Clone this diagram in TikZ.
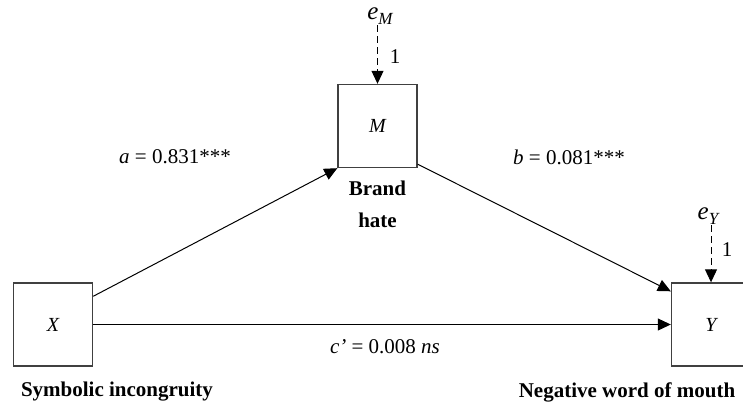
\documentclass[tikz,border=0pt]{standalone}
\usepackage{fontspec}
\setmainfont{Liberation Serif}
\usetikzlibrary{arrows.meta,calc}
\begin{document}
\begin{tikzpicture}[x=1pt,y=-1pt,
  every node/.style={font=\fontsize{21}{24}\selectfont},
  var/.style={draw=black!75,line width=1.4pt,minimum width=79pt,minimum height=83pt,inner sep=0pt,font=\fontsize{20}{24}\selectfont\itshape},
  path/.style={line width=1pt,-{Triangle[length=13pt,width=12pt]}},
  err/.style={line width=1pt,dash pattern=on 7pt off 4pt,-{Triangle[length=13pt,width=12pt]}},
  lab/.style={font=\fontsize{21}{24}\selectfont\bfseries},
  errlab/.style={font=\fontsize{25}{26}\selectfont\itshape,inner sep=1pt}]
\useasboundingbox (0,0) rectangle (743,407);
\node[var] (X) at (53,324.5) {X};
\node[var] (M) at (377.5,126) {M};
\node[var] (Y) at (711,324.5) {Y};
\node[errlab] (eM) at (380,16) {e\raisebox{-0.4ex}{\fontsize{17}{18}\selectfont M}};
\node[errlab] (eY) at (708,216) {e\raisebox{-0.4ex}{\fontsize{17}{18}\selectfont Y}};
\draw[err] (eM.south -| M.north) -- (M.north);
\draw[err] (eY.south -| Y.north) -- (Y.north);
\node (oneM) at (395,57) {1};
\node (oneY) at (727,250) {1};
\draw[path] ($(X.north east)+(0,14)$) -- (M.south west);
\draw[path] ($(M.south east)+(0,-4)$) -- ($(Y.north west)+(0,9)$);
\draw[path] (X.east) -- (Y.west);
\node (a) at (175,157) {\textit{a} = 0.831***};
\node (b) at (569,157) {\textit{b} = 0.081***};
\node (c) at (385,347) {\textit{c'} = 0.008 \textit{ns}};
\node[lab] (brand) at (377.5,188) {Brand};
\node[lab] (hate) at (377.5,220) {hate};
\node[lab] (xl) at (117,392) {Symbolic incongruity};
\node[lab] (yl) at (627,392) {Negative word of mouth};
\end{tikzpicture}
\end{document}
